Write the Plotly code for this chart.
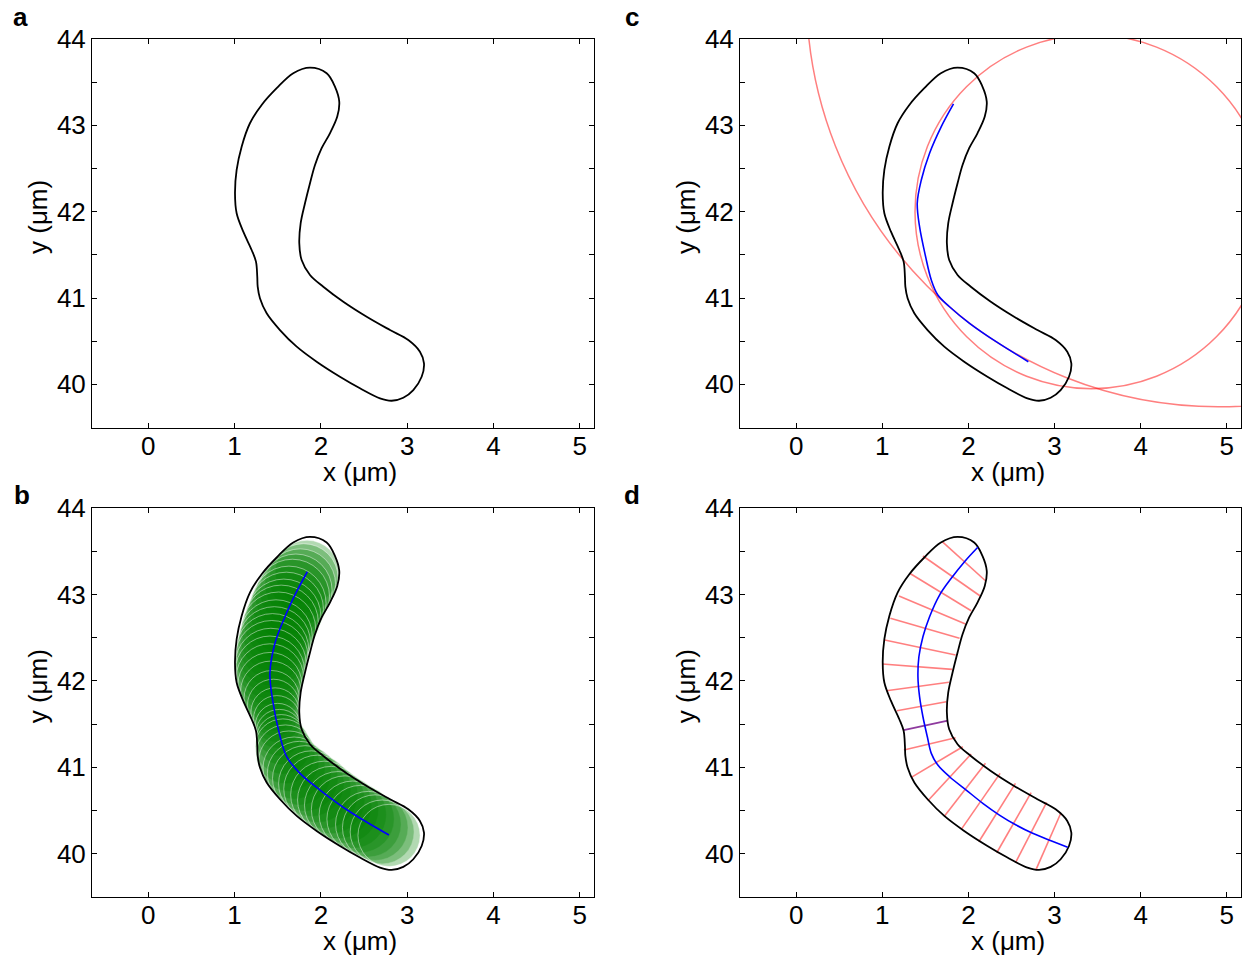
import plotly.graph_objects as go

W, H = 1248, 955

# ---------------- data ----------------
# cell outline (µm), traced clockwise, same contour in all four panels
outline_x = [2.453, 2.221, 1.951, 1.720, 1.526, 1.372, 1.294, 1.268, 1.263, 1.248, 1.198, 1.101,
             1.024, 1.005, 1.024, 1.082, 1.178, 1.314, 1.488, 1.680, 1.874, 2.067, 2.163, 2.213,
             2.190, 2.105, 2.009, 1.932, 1.874, 1.816, 1.766, 1.750, 1.777, 1.874, 2.028, 2.260,
             2.531, 2.801, 3.013, 3.148, 3.195, 3.168, 3.071, 2.955, 2.820, 2.685]
outline_y = [39.954, 40.088, 40.262, 40.436, 40.629, 40.823, 40.997, 41.131, 41.247, 41.421, 41.556, 41.768,
             41.981, 42.213, 42.483, 42.753, 43.024, 43.236, 43.430, 43.604, 43.669, 43.604, 43.449, 43.275,
             43.101, 42.908, 42.735, 42.541, 42.329, 42.097, 41.866, 41.634, 41.440, 41.267, 41.131, 40.957,
             40.783, 40.629, 40.513, 40.378, 40.243, 40.088, 39.934, 39.845, 39.810, 39.838]

# panel b: centre line and fitted circles
center_b_x = [1.843, 1.719, 1.584, 1.468, 1.410, 1.441, 1.518, 1.604, 1.758, 1.990, 2.337, 2.789]
center_b_y = [43.265, 43.034, 42.744, 42.436, 42.088, 41.779, 41.393, 41.122, 40.929, 40.736, 40.484, 40.214]
circle_cx = [1.84, 1.80, 1.76, 1.71, 1.67, 1.63, 1.60, 1.57, 1.54, 1.51, 1.48, 1.46, 1.44, 1.43, 1.42,
             1.41, 1.41, 1.41, 1.42, 1.43, 1.45, 1.47, 1.49, 1.50, 1.52, 1.54, 1.56, 1.59, 1.63, 1.69,
             1.75, 1.82, 1.89, 1.96, 2.04, 2.12, 2.20, 2.28, 2.37, 2.46, 2.55, 2.63, 2.71, 2.79]
circle_cy = [43.26, 43.19, 43.12, 43.05, 42.98, 42.90, 42.83, 42.75, 42.68, 42.60, 42.52, 42.44, 42.36,
             42.28, 42.20, 42.12, 42.04, 41.96, 41.88, 41.80, 41.72, 41.64, 41.56, 41.48, 41.40, 41.32,
             41.24, 41.15, 41.07, 40.99, 40.93, 40.87, 40.81, 40.75, 40.68, 40.62, 40.56, 40.51, 40.45,
             40.40, 40.34, 40.30, 40.25, 40.21]
circle_r = [0.37, 0.40, 0.41, 0.42, 0.43, 0.43, 0.43, 0.43, 0.43, 0.43, 0.42, 0.42, 0.42, 0.42, 0.41,
            0.40, 0.39, 0.37, 0.35, 0.32, 0.30, 0.28, 0.27, 0.26, 0.27, 0.29, 0.32, 0.34, 0.35, 0.36,
            0.37, 0.38, 0.38, 0.39, 0.39, 0.39, 0.39, 0.39, 0.39, 0.39, 0.38, 0.38, 0.37, 0.36]

# panel c: centre line and the two fitted arcs
center_c_x = [1.827, 1.685, 1.549, 1.453, 1.406, 1.433, 1.503, 1.569, 1.645, 1.781, 2.013, 2.322, 2.696]
center_c_y = [43.248, 42.985, 42.677, 42.367, 42.097, 41.826, 41.479, 41.209, 41.035, 40.899, 40.707, 40.494, 40.262]
arc_cx = [3.43, 4.90]
arc_cy = [42.00, 44.52]
arc_r = [2.05, 4.78]

# panel d: full centre line and perpendicular ribs
center_d_x = [2.109, 1.955, 1.801, 1.665, 1.549, 1.472, 1.425, 1.414, 1.433, 1.472, 1.523, 1.569, 1.645,
              1.781, 1.974, 2.167, 2.360, 2.554, 2.746, 2.959, 3.152]
center_d_y = [43.548, 43.381, 43.189, 42.995, 42.744, 42.512, 42.280, 42.049, 41.817, 41.585, 41.353, 41.161,
              41.025, 40.890, 40.736, 40.582, 40.446, 40.330, 40.234, 40.148, 40.072]
rib_x0 = [1.696, 1.472, 1.318, 1.194, 1.094, 1.028, 1.001, 1.048, 1.170, 1.248, 1.251, 1.337, 1.530,
          1.723, 1.917, 2.121, 2.329, 2.546, 2.786]
rib_y0 = [43.613, 43.447, 43.247, 42.984, 42.725, 42.474, 42.196, 41.886, 41.655, 41.431, 41.199, 40.883,
          40.612, 40.435, 40.280, 40.137, 40.009, 39.893, 39.817]
rib_x1 = [2.198, 2.137, 2.032, 1.966, 1.897, 1.851, 1.812, 1.773, 1.743, 1.761, 1.851, 1.935, 2.032,
          2.198, 2.368, 2.546, 2.728, 2.908, 3.075]
rib_y1 = [43.161, 42.984, 42.813, 42.659, 42.494, 42.300, 42.134, 41.984, 41.759, 41.539, 41.342, 41.238,
          41.153, 41.045, 40.929, 40.813, 40.705, 40.593, 40.473]
highlight_rib = 9  # index of the purple rib

x_ticks = [0, 1, 2, 3, 4, 5]
y_ticks = [39.5, 40, 40.5, 41, 41.5, 42, 42.5, 43, 43.5, 44]
y_ticktext = ["", "40", "", "41", "", "42", "", "43", "", "44"]
panel_letters = ["a", "c", "b", "d"]

# ---------------- styling ----------------
FONT = "Liberation Sans, Arial, Helvetica, sans-serif"
XR = [-0.652, 5.165]
YR = [39.5, 44.0]
BLACK_LW = 1.8
RED = "rgba(255,0,0,0.5)"


def px_x(p):
    return p / W


def px_y(p):
    return 1 - p / H


# pixel boxes: (left, right, top, bottom)
boxes = {
    "a": (92, 594, 39, 427.5),
    "c": (740, 1241, 39, 427.5),
    "b": (92, 594, 508.3, 896.7),
    "d": (740, 1241, 508.3, 896.7),
}
axis_ids = {"a": "", "c": "2", "b": "3", "d": "4"}

fig = go.Figure()
layout = dict(width=W, height=H, autosize=False, margin=dict(l=0, r=0, t=0, b=0, pad=0),
              paper_bgcolor="white", plot_bgcolor="white", showlegend=False,
              font=dict(family=FONT, color="black"))

for key, (l, r, t, b) in boxes.items():
    sid = axis_ids[key]
    layout["xaxis" + sid] = dict(
        domain=[px_x(l), px_x(r)], range=XR, anchor="y" + sid, automargin=False,
        tickvals=x_ticks, ticktext=[str(v) for v in x_ticks], ticklabelstandoff=-5,
        showline=True, linecolor="black", linewidth=1, mirror="ticks",
        ticks="inside", ticklen=5, tickcolor="black", tickwidth=1,
        showgrid=False, zeroline=False, fixedrange=True,
        tickfont=dict(family=FONT, size=26, color="black"))
    layout["yaxis" + sid] = dict(
        domain=[px_y(b), px_y(t)], range=YR, anchor="x" + sid, automargin=False,
        tickvals=y_ticks, ticktext=y_ticktext,
        showline=True, linecolor="black", linewidth=1, mirror="ticks",
        ticks="inside", ticklen=5, tickcolor="black", tickwidth=1,
        showgrid=False, zeroline=False, fixedrange=True,
        tickfont=dict(family=FONT, size=26, color="black"))

ox = outline_x + outline_x[:1]
oy = outline_y + outline_y[:1]

shapes = []
# panel b: translucent green circles
for cx, cy, rr in zip(circle_cx, circle_cy, circle_r):
    shapes.append(dict(type="circle", xref="x3", yref="y3", layer="below",
                       x0=cx - rr, x1=cx + rr, y0=cy - rr, y1=cy + rr,
                       fillcolor="rgba(0,128,0,0.3)",
                       line=dict(color="rgba(255,255,255,0.45)", width=1)))
# panel c: fitted arcs
for cx, cy, rr in zip(arc_cx, arc_cy, arc_r):
    shapes.append(dict(type="circle", xref="x2", yref="y2", layer="below",
                       x0=cx - rr, x1=cx + rr, y0=cy - rr, y1=cy + rr,
                       line=dict(color=RED, width=1.5)))
layout["shapes"] = shapes


def outline_trace(sid):
    return go.Scatter(x=ox, y=oy, mode="lines", xaxis="x" + sid, yaxis="y" + sid,
                      line=dict(color="black", width=BLACK_LW, shape="spline", smoothing=1),
                      hoverinfo="skip")


def center_trace(xs, ys, sid):
    return go.Scatter(x=xs, y=ys, mode="lines", xaxis="x" + sid, yaxis="y" + sid,
                      line=dict(color="blue", width=1.6, shape="spline", smoothing=1),
                      hoverinfo="skip")


# panel a
fig.add_trace(outline_trace(""))
# panel c
fig.add_trace(outline_trace("2"))
fig.add_trace(center_trace(center_c_x, center_c_y, "2"))
# panel b
fig.add_trace(outline_trace("3"))
fig.add_trace(center_trace(center_b_x, center_b_y, "3"))
# panel d ribs
rx, ry = [], []
for i in range(len(rib_x0)):
    if i == highlight_rib:
        continue
    rx += [rib_x0[i], rib_x1[i], None]
    ry += [rib_y0[i], rib_y1[i], None]
fig.add_trace(go.Scatter(x=rx, y=ry, mode="lines", xaxis="x4", yaxis="y4",
                         line=dict(color=RED, width=1.6), hoverinfo="skip"))
fig.add_trace(go.Scatter(x=[rib_x0[highlight_rib], rib_x1[highlight_rib]],
                         y=[rib_y0[highlight_rib], rib_y1[highlight_rib]],
                         mode="lines", xaxis="x4", yaxis="y4",
                         line=dict(color="#8e3a9e", width=1.8), hoverinfo="skip"))
fig.add_trace(outline_trace("4"))
fig.add_trace(center_trace(center_d_x, center_d_y, "4"))

# annotations: panel letters and axis titles
ann = []
letter_pos = {"a": (20, 17), "c": (632, 17), "b": (22, 495), "d": (632, 495)}
for k in panel_letters:
    lx, ly = letter_pos[k]
    ann.append(dict(text="<b>%s</b>" % k, x=px_x(lx), y=px_y(ly), xref="paper", yref="paper",
                    showarrow=False, xanchor="center", yanchor="middle",
                    font=dict(family=FONT, size=26, color="black")))
for key, (l, r, t, b) in boxes.items():
    ann.append(dict(text="x (μm)", x=px_x(l + 268), y=px_y(b + 44), xref="paper", yref="paper",
                    showarrow=False, xanchor="center", yanchor="middle",
                    font=dict(family=FONT, size=26, color="black")))
    ann.append(dict(text="y (μm)", x=px_x(l - 54), y=px_y(t + 178), xref="paper", yref="paper",
                    showarrow=False, xanchor="center", yanchor="middle", textangle=-90,
                    font=dict(family=FONT, size=26, color="black")))
layout["annotations"] = ann

fig.update_layout(**layout)

post = (
    "var gd=document.getElementById('{plot_id}');"
    "document.documentElement.style.margin='0';document.body.style.margin='0';"
    "document.body.style.overflow='hidden';"
    "gd.style.position='fixed';gd.style.left='0px';gd.style.top='0px';"
    "gd.style.width='1248px';gd.style.height='955px';"
    "Plotly.relayout(gd,{width:1248,height:955});"
)
fig.write_html("out.html", include_plotlyjs=True,
               config={"displayModeBar": False, "responsive": False},
               post_script=post)
